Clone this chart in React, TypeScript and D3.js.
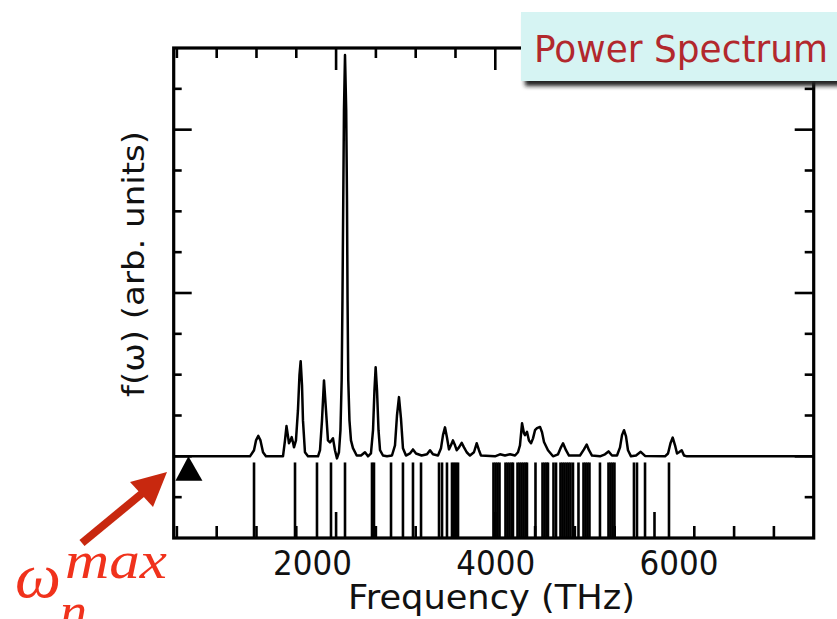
import React from "react";
import * as d3 from "d3";

const W = 837;
const H = 619;

// Power spectrum curve: [frequency (THz), f(ω) arb. units]
const spectrumPoints: [number, number][] = [
  [-40, 0], [918, 0], [969, 0.15], [994, 0.39], [1023, 0.5], [1050, 0.39], [1082, 0.1], [1119, 0],
  [1333, 0], [1358, 0.39], [1377, 0.74], [1396, 0.49], [1408, 0.32], [1427, 0.39], [1442, 0.47],
  [1459, 0.34], [1471, 0.22], [1496, 0.39], [1521, 1.13], [1540, 1.99], [1555, 2.33], [1572, 1.74],
  [1584, 0.88], [1609, 0.1], [1647, 0],
  [1773, 0], [1798, 0.15], [1823, 0.88], [1848, 1.86], [1873, 1.13], [1898, 0.39], [1923, 0.34],
  [1961, 0.44], [1986, 0.15], [2011, -0.05], [2036, 0.1], [2055, 0.64], [2070, 1.86], [2080, 3.82],
  [2090, 6.27], [2099, 8.48], [2112, 9.83], [2127, 8.48], [2137, 6.27], [2144, 3.82], [2153, 1.86],
  [2168, 0.88], [2187, 0.39], [2212, 0.2], [2259, 0.02], [2313, 0.02], [2363, 0.1], [2401, 0],
  [2438, 0.07], [2464, 0.64], [2482, 1.62], [2497, 2.18], [2514, 1.62], [2533, 0.64], [2552, 0.15],
  [2589, 0.02], [2639, 0], [2702, 0.02], [2740, 0.27], [2765, 1.0], [2790, 1.45], [2815, 0.93],
  [2840, 0.2], [2878, 0.02], [2928, 0.07], [2966, 0.17], [3004, 0.07], [3075, 0.02], [3142, 0.05],
  [3180, 0.15], [3217, 0.05], [3280, 0.02], [3318, 0.2], [3343, 0.52], [3368, 0.71], [3393, 0.46],
  [3418, 0.17], [3443, 0.27], [3468, 0.39], [3494, 0.27], [3515, 0.15], [3544, 0.22], [3578, 0.33],
  [3607, 0.22], [3641, 0.1], [3682, 0.02], [3732, 0.1], [3766, 0.32], [3795, 0.15], [3820, 0.02],
  [3996, 0], [4059, 0.05], [4122, 0.02], [4185, 0.05], [4248, 0.02], [4285, 0.1], [4310, 0.27],
  [4336, 0.81], [4361, 0.56], [4373, 0.52], [4398, 0.6], [4423, 0.39], [4449, 0.32], [4474, 0.44],
  [4499, 0.64], [4524, 0.69], [4562, 0.72], [4587, 0.59], [4612, 0.35], [4662, 0.15], [4725, 0],
  [4788, 0.05], [4825, 0.22], [4851, 0.32], [4888, 0.15], [4926, 0.02], [5001, 0.02], [5064, 0.02],
  [5114, 0.17], [5148, 0.29], [5177, 0.15], [5215, 0.02], [5315, 0], [5378, 0.05], [5422, 0.12],
  [5466, 0.02], [5529, 0.02], [5567, 0.22], [5592, 0.52], [5617, 0.64], [5642, 0.49], [5667, 0.15],
  [5705, 0], [5768, 0.02], [5827, 0.11], [5881, 0.01], [6132, 0], [6170, 0.07], [6201, 0.32],
  [6229, 0.46], [6258, 0.27], [6283, 0.07], [6308, 0.1], [6342, 0.15], [6371, 0.02], [6408, 0],
  [8000, 0],
];

// Normal-mode frequencies (stick spectrum), THz
const modeFreqs: number[] = [
  969, 1484, 1760, 1936, 2112, 2451, 2476, 2690, 2840, 2966, 3067, 3293, 3331, 3393, 3456, 3481,
  3506, 3532, 3977, 4003, 4028, 4053, 4128, 4153, 4178, 4204, 4222, 4279, 4304, 4329, 4354, 4379,
  4398, 4505, 4593, 4618, 4643, 4662, 4731, 4763, 4819, 4844, 4869, 4895, 4920, 4945, 4976, 5045,
  5108, 5133, 5158, 5183, 5315, 5422, 5447, 5472, 5497, 5742, 5780, 5881, 6182,
];

// ω_n^max marker position (THz)
const markerFreq = [145];

const xMinorTicks = [0, 500, 1000, 1500, 2000, 2500, 3000, 3500, 4000, 4500, 5000, 5500, 6000, 6500, 7000, 7500];
const xMajorTicks = [2000, 4000, 6000];
const xTickLabels = ["2000", "4000", "6000"];
const xTickLabelValues = [2000, 4000, 6000];
const yMinorTicks = [-1, 0, 1, 2, 3, 4, 5, 6, 7, 8, 9];
const yMajorTicks = [0, 4, 8];

const xDomain: [number, number] = [-40, 8000];
const yDomain: [number, number] = [-2, 10];

export default function App() {
  const x = d3.scaleLinear().domain(xDomain).range([173.7, 813.7]);
  const y = d3.scaleLinear().domain(yDomain).range([538, 48]);
  // overlay label scale used on the slide
  const xl = d3.scaleLinear().domain([2000, 6000]).range([312.5, 679]);

  const line = d3
    .line<[number, number]>()
    .x((d) => x(d[0]))
    .y((d) => y(d[1]));

  const left = x(xDomain[0]);
  const right = x(xDomain[1]);
  const top = y(yDomain[1]);
  const bottom = y(yDomain[0]);

  const font = "'DejaVu Sans', sans-serif";
  const red = "rgb(240,50,28)";
  const mathStyle: React.CSSProperties = {
    fontFamily: "'Liberation Serif', 'DejaVu Serif', serif",
    fontStyle: "italic",
  };

  return (
    <svg
      width={W}
      height={H}
      viewBox={`0 0 ${W} ${H}`}
      style={{ position: "absolute", left: 0, top: 0, background: "#fff" }}
    >
      <defs>
        <filter id="sh" x="-10%" y="-30%" width="130%" height="160%">
          <feGaussianBlur stdDeviation="2" />
        </filter>
      </defs>
      <rect width={W} height={H} fill="#fff" />

      {/* sticks */}
      <g stroke="#000" strokeWidth={2.6}>
        {modeFreqs.map((f, i) => (
          <line key={i} x1={x(f)} x2={x(f)} y1={y(-0.15)} y2={bottom} />
        ))}
      </g>

      {/* spectrum */}
      <path
        d={line(spectrumPoints) || ""}
        fill="none"
        stroke="#000"
        strokeWidth={2.5}
        strokeLinejoin="round"
      />

      {/* ticks */}
      <g stroke="#000" strokeWidth={2.6}>
        {xMinorTicks.map((t) => {
          const major = xMajorTicks.includes(t);
          return (
            <g key={"x" + t}>
              <line x1={x(t)} x2={x(t)} y1={top} y2={top + (major ? 22 : 10)} />
              <line x1={x(t)} x2={x(t)} y1={bottom} y2={bottom - (major ? 26 : 12)} />
            </g>
          );
        })}
        {yMinorTicks.map((t) => {
          const major = yMajorTicks.includes(t);
          return (
            <g key={"y" + t}>
              <line x1={left} x2={left + (major ? 18 : 8)} y1={y(t)} y2={y(t)} />
              <line x1={right} x2={right - (major ? 19 : 9)} y1={y(t)} y2={y(t)} />
            </g>
          );
        })}
      </g>

      {/* frame */}
      <rect
        x={left}
        y={top}
        width={right - left}
        height={bottom - top}
        fill="none"
        stroke="#000"
        strokeWidth={3.2}
      />

      {/* marker triangle */}
      {markerFreq.map((f, i) => (
        <path
          key={i}
          d={`M${x(f)},${y(0)} L${x(f) + 14},${y(-0.6)} L${x(f) - 13},${y(-0.6)} Z`}
          fill="#000"
        />
      ))}

      {/* x tick labels */}
      {xTickLabels.map((s, i) => (
        <text
          key={s}
          x={xl(xTickLabelValues[i])}
          y={575}
          textAnchor="middle"
          fontFamily={font}
          fontSize={33}
          textLength={79}
          lengthAdjust="spacingAndGlyphs"
          fill="#111"
        >
          {s}
        </text>
      ))}
      <text
        x={491.5}
        y={609}
        textAnchor="middle"
        fontFamily={font}
        fontSize={34}
        textLength={287}
        lengthAdjust="spacingAndGlyphs"
        fill="#111"
      >
        Frequency (THz)
      </text>

      {/* y label */}
      <text
        transform="translate(144,264) rotate(-90)"
        textAnchor="middle"
        fontFamily={font}
        fontSize={31}
        textLength={266}
        lengthAdjust="spacingAndGlyphs"
        fill="#111"
      >
        f(ω) (arb. units)
      </text>

      {/* title box */}
      <rect x={525} y={17} width={320} height={69} fill="#222" filter="url(#sh)" />
      <rect x={521} y={12} width={320} height={69} fill="#d6f4f3" />
      <text
        x={534}
        y={62}
        fontFamily={font}
        fontSize={37}
        textLength={294}
        lengthAdjust="spacingAndGlyphs"
        fill="#b2282d"
      >
        Power Spectrum
      </text>

      {/* arrow annotation */}
      <line x1={82} y1={543} x2={145} y2={491} stroke="rgb(200,40,15)" strokeWidth={8} />
      <path d="M167,472 L130,482 L153,507 Z" fill="rgb(200,40,15)" />

      <g fill={red}>
        <text x={15} y={597} fontSize={64} textLength={46} lengthAdjust="spacingAndGlyphs" style={mathStyle}>
          ω
        </text>
        <text x={65} y={578} fontSize={52} textLength={102} lengthAdjust="spacingAndGlyphs" style={mathStyle}>
          max
        </text>
        <text x={60} y={628} fontSize={50} textLength={27} lengthAdjust="spacingAndGlyphs" style={mathStyle}>
          n
        </text>
      </g>
    </svg>
  );
}
